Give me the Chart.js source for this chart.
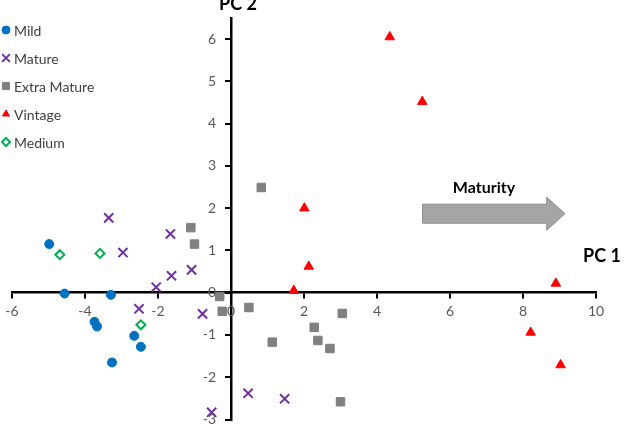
<!DOCTYPE html>
<html>
<head>
<meta charset="utf-8">
<script src="https://cdn.jsdelivr.net/npm/chart.js@4/dist/chart.umd.min.js"></script>
<style>
  html, body { margin: 0; padding: 0; background: #fff; overflow: hidden; }
  /* a little taller than the window: the bottom tick label is cut off, as in the source */
  #wrap { width: 629px; height: 428px; position: relative; }
</style>
</head>
<body>
<div id="wrap"><canvas id="pca"></canvas></div>
<script>
// PCA scores: [PC1, PC2]
const mildPts = [[-4.98, 1.15], [-4.56, -0.02], [-3.29, -0.05], [-3.74, -0.69], [-3.67, -0.80],
                 [-2.65, -1.02], [-2.47, -1.28], [-3.26, -1.65]];
const maturePts = [[-3.35, 1.77], [-2.96, 0.95], [-1.66, 1.39], [-1.63, 0.40], [-1.08, 0.54],
                   [-2.05, 0.13], [-2.52, -0.38], [-0.78, -0.50], [0.47, -2.38], [1.47, -2.51],
                   [-0.53, -2.83]];
const extraPts = [[0.83, 2.49], [-1.10, 1.54], [-1.00, 1.15], [-0.31, -0.09], [-0.24, -0.44],
                  [0.49, -0.35], [1.13, -1.17], [2.28, -0.82], [2.38, -1.13], [2.71, -1.32],
                  [3.05, -0.49], [3.00, -2.58]];
const vintagePts = [[4.35, 6.05], [5.24, 4.52], [2.01, 2.00], [2.13, 0.62], [1.72, 0.05],
                    [8.90, 0.22], [8.21, -0.94], [9.03, -1.71]];
const mediumPts = [[-4.69, 0.90], [-3.59, 0.93], [-2.47, -0.76]];

const seriesNames = ['Mild', 'Mature', 'Extra Mature', 'Vintage', 'Medium'];
const xTicksRange = [-6, 10];
const yTicksRange = [-3, 6.5];

const toXY = pts => pts.map(p => ({ x: p[0], y: p[1] }));

const STYLES = [
  { pointStyle: 'circle',   backgroundColor: '#0070C0', borderColor: '#0070C0', borderWidth: 1, radius: 4.5 },
  { pointStyle: 'crossRot', backgroundColor: '#7030A0', borderColor: '#7030A0', borderWidth: 2, radius: 6.5 },
  { pointStyle: 'rect',     backgroundColor: '#808080', borderColor: '#808080', borderWidth: 1, radius: 6 },
  { pointStyle: 'triangle', backgroundColor: '#FF0000', borderColor: '#FF0000', borderWidth: 1, radius: 5.5 },
  { pointStyle: 'rectRot',  backgroundColor: '#FFFFFF', borderColor: '#00B050', borderWidth: 2, radius: 4.5 },
];

const allSeries = [mildPts, maturePts, extraPts, vintagePts, mediumPts];

const datasets = allSeries.map((pts, i) => ({
  label: seriesNames[i],
  data: toXY(pts),
  pointStyle: STYLES[i].pointStyle,
  backgroundColor: STYLES[i].backgroundColor,
  borderColor: STYLES[i].borderColor,
  pointBorderWidth: STYLES[i].borderWidth,
  pointRadius: STYLES[i].radius,
  pointHoverRadius: STYLES[i].radius,
}));

// legend in the top-left corner, tick labels beside the crossing axes,
// axis titles and the maturity arrow
const extras = {
  id: 'extras',
  afterDraw(chart) {
    const { ctx, scales: { x, y } } = chart;
    ctx.save();

    // legend
    ctx.textBaseline = 'middle';
    ctx.textAlign = 'left';
    seriesNames.forEach((name, i) => {
      const ly = 30 + i * 28;
      const s = STYLES[i];
      ctx.fillStyle = s.backgroundColor;
      ctx.strokeStyle = s.borderColor;
      ctx.lineWidth = s.borderWidth;
      Chart.helpers.drawPoint(ctx, {
        pointStyle: s.pointStyle,
        radius: s.pointStyle === 'crossRot' ? 5.5 : s.pointStyle === 'rect' ? 5 : 4,
        borderWidth: s.borderWidth,
        rotation: 0,
      }, 6, ly);
      ctx.font = '14px Lato, sans-serif';
      ctx.fillStyle = '#404040';
      ctx.fillText(name, 14, ly + 1);
    });

    // tick labels
    const axisX = x.getPixelForValue(0);
    const axisY = y.getPixelForValue(0);
    ctx.font = '14px Lato, sans-serif';
    ctx.fillStyle = '#595959';
    ctx.textAlign = 'right';
    y.ticks.forEach(t => {
      ctx.fillText(String(t.value), axisX - 15, y.getPixelForValue(t.value));
    });
    ctx.textAlign = 'center';
    x.ticks.forEach(t => {
      ctx.fillText(String(t.value), x.getPixelForValue(t.value), axisY + 19);
    });

    // axis titles
    ctx.font = 'bold 18px Lato, sans-serif';
    ctx.fillStyle = '#000';
    ctx.fillText('PC 2', axisX + 7, 4);
    ctx.fillText('PC 1', 602, axisY - 37);
    ctx.font = 'bold 16px Lato, sans-serif';
    ctx.fillText('Maturity', x.getPixelForValue(6.93), y.getPixelForValue(2.48));

    // arrow
    const x0 = x.getPixelForValue(5.25), xb = x.getPixelForValue(8.65), xt = x.getPixelForValue(9.15);
    const yc = y.getPixelForValue(1.87);
    ctx.beginPath();
    ctx.moveTo(x0, yc - 9.5);
    ctx.lineTo(xb, yc - 9.5);
    ctx.lineTo(xb, yc - 16.5);
    ctx.lineTo(xt, yc);
    ctx.lineTo(xb, yc + 16.5);
    ctx.lineTo(xb, yc + 9.5);
    ctx.lineTo(x0, yc + 9.5);
    ctx.closePath();
    ctx.fillStyle = '#A5A5A5';
    ctx.fill();
    ctx.strokeStyle = '#8C8C8C';
    ctx.lineWidth = 1;
    ctx.stroke();
    ctx.restore();
  }
};

new Chart(document.getElementById('pca'), {
  type: 'scatter',
  data: { datasets },
  plugins: [extras],
  options: {
    responsive: true,
    maintainAspectRatio: false,
    animation: false,
    layout: { padding: { left: 12, right: 33, top: 18, bottom: 2 } },
    plugins: {
      legend: { display: false },
      tooltip: { enabled: false },
    },
    scales: {
      x: {
        type: 'linear',
        position: { y: 0 },
        min: xTicksRange[0],
        max: xTicksRange[1],
        border: { display: true, color: '#000', width: 2.5 },
        grid: { drawOnChartArea: false, drawTicks: true, tickLength: 5, color: '#000', lineWidth: 2 },
        ticks: { display: false, stepSize: 2 },
      },
      y: {
        type: 'linear',
        position: { x: 0 },
        min: yTicksRange[0],
        max: yTicksRange[1],
        border: { display: true, color: '#000', width: 2.5 },
        grid: { drawOnChartArea: false, drawTicks: true, tickLength: 5, color: '#000', lineWidth: 2 },
        ticks: { display: false, stepSize: 1, includeBounds: false },
      },
    },
  },
});
</script>
</body>
</html>
